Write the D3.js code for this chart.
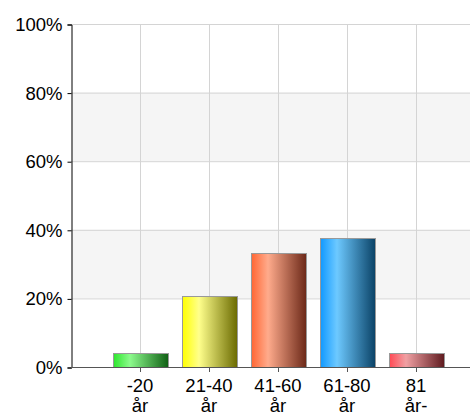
<!DOCTYPE html>
<html>
<head>
<meta charset="utf-8">
<script src="https://cdn.jsdelivr.net/npm/d3@7"></script>
<style>
  body { margin: 0; background: #fff; }
  svg { display: block; font-family: "Liberation Sans", Arial, sans-serif; }
</style>
</head>
<body>
<svg id="chart" width="470" height="416"></svg>
<script>
const categories = [['-20', 'år'], ['21-40', 'år'], ['41-60', 'år'], ['61-80', 'år'], ['81', 'år-']];
const values = [4.17, 20.83, 33.33, 37.5, 4.17];
const yTicks = [0, 20, 40, 60, 80, 100];
// left, highlight, right
const barColors = [
  ['#2de62d', '#8cfa8c', '#0f5f14'],
  ['#ffff00', '#ffff8c', '#6a6a00'],
  ['#ff6633', '#ffab8c', '#6b2818'],
  ['#1199ff', '#6dc9ff', '#0a4266'],
  ['#ff4a55', '#f0a0a3', '#5e1a1e']
];

const svg = d3.select('#chart');
const m = { left: 71, top: 24, bottom: 367 };
const fs = 18.5;

const x = d3.scaleLinear().domain([0, 6]).range([m.left, m.left + 69 * 6]);
const y = d3.scaleLinear().domain([0, 100]).range([m.bottom, m.top]);

// gradients
const defs = svg.append('defs');
barColors.forEach((c, i) => {
  const g = defs.append('linearGradient').attr('id', 'g' + i)
    .attr('x1', 0).attr('x2', 1).attr('y1', 0).attr('y2', 0);
  g.append('stop').attr('offset', '0%').attr('stop-color', c[0]);
  g.append('stop').attr('offset', '30%').attr('stop-color', c[1]);
  g.append('stop').attr('offset', '100%').attr('stop-color', c[2]);
});

// alternating bands
const bands = [[60, 80], [20, 40]];
svg.selectAll('.band').data(bands).join('rect')
  .attr('x', m.left).attr('width', 470 - m.left)
  .attr('y', d => y(d[1])).attr('height', d => y(d[0]) - y(d[1]))
  .attr('fill', '#f5f5f5');

// grid
svg.selectAll('.hg').data(yTicks.slice(1)).join('line')
  .attr('x1', m.left).attr('x2', 470)
  .attr('y1', d => y(d) + 0.5).attr('y2', d => y(d) + 0.5)
  .attr('stroke', '#d4d4d4');
svg.selectAll('.vg').data(categories).join('line')
  .attr('x1', (d, i) => Math.round(x(i + 1)) + 0.5).attr('x2', (d, i) => Math.round(x(i + 1)) + 0.5)
  .attr('y1', m.top).attr('y2', m.bottom)
  .attr('stroke', '#d4d4d4');

// bars
const bw = 55;
svg.selectAll('.bar').data(values).join('rect')
  .attr('x', (d, i) => Math.round(x(i + 1) - bw / 2) + 0.5)
  .attr('width', bw)
  .attr('y', d => Math.round(y(d)) + 0.5)
  .attr('height', d => m.bottom - Math.round(y(d)))
  .attr('fill', (d, i) => `url(#g${i})`)
  .attr('stroke', '#999').attr('stroke-width', 1);

// y axis
const yAxis = svg.append('g').attr('transform', `translate(${m.left + 0.5},0.5)`)
  .call(d3.axisLeft(y).tickValues(yTicks).tickFormat(d => d + '%').tickSize(4).tickPadding(5));
yAxis.select('.domain').attr('stroke', '#000');
yAxis.selectAll('.tick line').attr('stroke', '#000');
yAxis.selectAll('text').attr('font-size', fs).attr('fill', '#000')
  .attr('font-family', '"Liberation Sans", Arial, sans-serif');

// x axis
svg.append('line').attr('x1', m.left).attr('x2', 470)
  .attr('y1', m.bottom + 0.5).attr('y2', m.bottom + 0.5).attr('stroke', '#555');
svg.selectAll('.xt').data(categories).join('line')
  .attr('x1', (d, i) => Math.round(x(i + 1)) + 0.5).attr('x2', (d, i) => Math.round(x(i + 1)) + 0.5)
  .attr('y1', m.bottom).attr('y2', m.bottom + 5).attr('stroke', '#555');
const xl = svg.selectAll('.xl').data(categories).join('text')
  .attr('text-anchor', 'middle').attr('font-size', fs).attr('fill', '#000')
  .attr('transform', (d, i) => `translate(${x(i + 1)},0)`);
xl.selectAll('tspan').data(d => d).join('tspan')
  .attr('x', 0).attr('y', (d, j) => 392 + j * 19.5).text(d => d);
</script>
</body>
</html>
